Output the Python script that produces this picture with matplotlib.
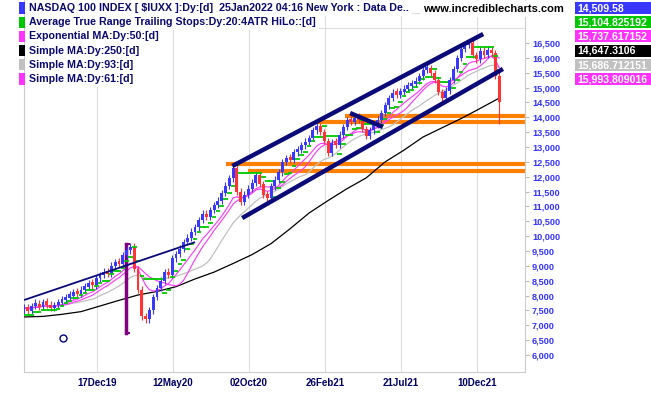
import numpy as np
import pandas as pd
import matplotlib
matplotlib.use('Agg')
import matplotlib.pyplot as plt
from matplotlib.patches import Rectangle

plt.rcParams['font.family'] = ['Liberation Sans', 'DejaVu Sans']

# weekly closes (one every 5 trading days)
closes = [7600, 7480, 7650, 7720, 7620, 7780, 7700, 7580, 7680, 7760,
          7850, 7930, 8000, 8080, 8050, 8200, 8300, 8390, 8340, 8580,
          8700, 8770, 8720, 9010, 9120, 9060, 9360, 9520, 9650, 8900,
          8200, 7300, 7200, 7500, 7950, 8250, 8500, 8780, 8700, 9250,
          9400, 9580, 9800, 9950, 10150, 10300, 10550, 10760, 10650, 10880,
          11050, 11200, 11450, 11700, 11950, 12300, 11500, 11150, 11400, 11600,
          11800, 12050, 11750, 11400, 11300, 11680, 11900, 12150, 12500, 12630,
          12560, 12820, 12900, 13060, 13180, 13300, 13560, 13700, 13500, 13200,
          12800, 13150, 13080, 13420, 13680, 13910, 13850, 13980, 13920, 13600,
          13380, 13560, 13750, 13920, 14150, 14400, 14650, 14830, 14760, 14860,
          14970, 15050, 15130, 15230, 15380, 15590, 15660, 15480, 15250, 14850,
          14650, 14900, 15250, 15620, 16000, 16300, 16430, 16500, 16100, 15950,
          16250, 16100, 16280, 16150, 15400, 14509.58]
first_open = 7500
last_low = 13780

# 250 day simple MA, read every 25 trading days
sma250 = [7280, 7300, 7370, 7460, 7650, 7840, 8020, 8140, 8300, 8560,
          8790, 9080, 9380, 9750, 10250, 10780, 11200, 11600, 11960, 12500,
          12900, 13340, 13650, 13960, 14300, 14647]

# trend lines: (start day, start price, end day, end price)
channel_upper = [274, 12360, 604, 16805]
channel_lower = [287, 10610, 630, 15630]
early_line = [0, 7850, 225, 9800]
short_line = [429, 14145, 472, 13675]
# orange support lines: (start day, price)
orange_lines = [(422, 14045), (386, 13843), (266, 12429), (295, 12193)]
purple_bar = [134, 6740, 9720]
circle_pt = [51, 6570]

date_pos = [96, 196, 296, 396, 496, 596]
date_labels = ['17Dec19', '12May20', '02Oct20', '26Feb21', '21Jul21', '10Dec21']

legend_names = ['NASDAQ 100 INDEX [ \\$IUXX ]:Dy:[d]  25Jan2022 04:16 New York : Data De..',
                'Average True Range Trailing Stops:Dy:20:4ATR HiLo::[d]',
                'Exponential MA:Dy:50:[d]',
                'Simple MA:Dy:250:[d]',
                'Simple MA:Dy:93:[d]',
                'Simple MA:Dy:61:[d]']
legend_colors = ['#3838ff', '#00c800', '#ff33ff', '#000000', '#c0c0c0', '#ff33ff']
last_values = ['14,509.58', '15,104.825192', '15,737.617152', '14,647.3106',
               '15,686.712151', '15,993.809016']

W, H = 651, 395
fig = plt.figure(figsize=(W / 100, H / 100), dpi=100)
ax = fig.add_axes([24 / W, 23 / H, 501 / W, 372 / H])

def fx(px):
    return px / W

def fy(py):
    return 1 - py / H

c = pd.Series(closes, dtype=float)
days = np.arange(len(closes)) * 5
opens = np.r_[first_open, c.values[:-1]]

ema50 = c.ewm(span=10, adjust=False).mean()
sma61 = c.rolling(12, min_periods=1).mean()
sma93 = c.rolling(19, min_periods=1).mean()

# trailing stop from weekly range
mult = 2.2
atr = c.diff().abs().rolling(4, min_periods=1).mean().bfill()
stops = []
up = True
stop = c[0] - mult * atr[0]
for i in range(len(c)):
    if up:
        stop = max(stop, c[i] - mult * atr[i])
        if c[i] < stop:
            up = False
            stop = c[i] + mult * atr[i]
    else:
        stop = min(stop, c[i] + mult * atr[i])
        if c[i] > stop:
            up = True
            stop = c[i] - mult * atr[i]
    stops.append(stop)

ax.set_xlim(0, 659)
ax.set_ylim(5428, 17950)
ax.set_yticks(np.arange(6000, 17000, 500))
ax.set_yticks(np.arange(6000, 18000, 500), minor=True)
ax.grid(True, which='minor', axis='y', color='#dedede', lw=0.8)
ax.set_xticks(date_pos)
ax.set_xticklabels(date_labels)
ax.grid(True, axis='x', color='#dedede', lw=0.8)
ax.set_axisbelow(True)
ax.yaxis.tick_right()
ax.tick_params(axis='y', which='major', length=3, color='#bbbbbb', pad=2,
               labelcolor='#3333ff', labelsize=6.6)
ax.tick_params(axis='y', which='minor', length=0)
ax.tick_params(axis='x', length=0, pad=4, labelcolor='#000066', labelsize=7)
for lab in ax.get_yticklabels() + ax.get_xticklabels():
    lab.set_fontweight('bold')
ax.yaxis.set_major_formatter(matplotlib.ticker.FuncFormatter(lambda v, p: f'{v:,.0f}'))
ax.spines['top'].set_visible(False)
for s in ['left', 'right', 'bottom']:
    ax.spines[s].set_color('#cccccc')
    ax.spines[s].set_linewidth(0.8)

for start, price in orange_lines:
    ax.plot([start, 659], [price, price], color='#ff8000', lw=3, solid_capstyle='butt', zorder=2)

ax.plot(np.arange(len(sma250)) * 25, sma250, color='black', lw=0.9, zorder=3)
ax.plot(days, sma93, color='#c0c0c0', lw=0.9, zorder=3)
ax.plot(days, sma61, color='#ff33ff', lw=0.8, zorder=3)
ax.plot(days, ema50, color='#ff33ff', lw=0.8, zorder=3)

ax.plot([purple_bar[0]] * 2, purple_bar[1:], color='#800080', lw=2.5, zorder=3)
ax.plot([purple_bar[0], purple_bar[0] + 4], [purple_bar[2]] * 2, color='#800080', lw=1.5, zorder=3)
ax.plot([purple_bar[0], purple_bar[0] + 4], [purple_bar[1]] * 2, color='#800080', lw=1.5, zorder=3)

# candles: bodies plus short wicks
body_low = np.minimum(opens, c.values)
body_h = np.maximum(np.abs(c.values - opens), 110)
cols = np.where(c.values >= opens, '#3838ff', '#ff3333')
wick = 110
lows = body_low - wick
lows[-1] = last_low
ax.vlines(days, lows, body_low + body_h + wick, color=cols, lw=0.8, zorder=4)
ax.bar(days, body_h, bottom=body_low, width=3.8, color=cols, zorder=4)

ax.hlines(stops, days - 3, days + 3, color='#00cc00', lw=1.3, zorder=5)

for seg, lw in [(channel_upper, 3.2), (channel_lower, 3.2), (early_line, 1.3), (short_line, 3.2)]:
    ax.plot([seg[0], seg[2]], [seg[1], seg[3]], color='#0a0a78', lw=lw, zorder=6,
            solid_capstyle='butt')

ax.plot(circle_pt[0], circle_pt[1], 'o', mfc='none', mec='#000080', ms=5, mew=1, zorder=6)

# legend rows
for i, (name, col) in enumerate(zip(legend_names, legend_colors)):
    yc = 8 + 14.2 * i
    fig.text(fx(29), fy(yc), name, color='#0a0a6e', fontsize=7.7, fontweight='bold',
             va='center', ha='left',
             bbox=dict(facecolor='white', edgecolor='none', pad=2.2))
    fig.patches.append(Rectangle((fx(19), fy(yc + 5.5)), 6 / W, 11 / H,
                                 facecolor=col, edgecolor='none', transform=fig.transFigure))

fig.text(fx(423), fy(9), 'www.incrediblecharts.com', color='black', fontsize=8.0,
         fontweight='bold', va='center', ha='left',
         bbox=dict(facecolor='white', edgecolor='none', pad=2))

for i, (val, col) in enumerate(zip(last_values, legend_colors)):
    top = 2 + 14.2 * i
    fig.patches.append(Rectangle((fx(575), fy(top + 12)), 76 / W, 12 / H,
                                 facecolor=col, edgecolor='none', transform=fig.transFigure))
    fig.text(fx(577), fy(top + 6.3), val, color='white', fontsize=7.6, fontweight='bold',
             va='center', ha='left')

fig.savefig('out.png', dpi=100)
